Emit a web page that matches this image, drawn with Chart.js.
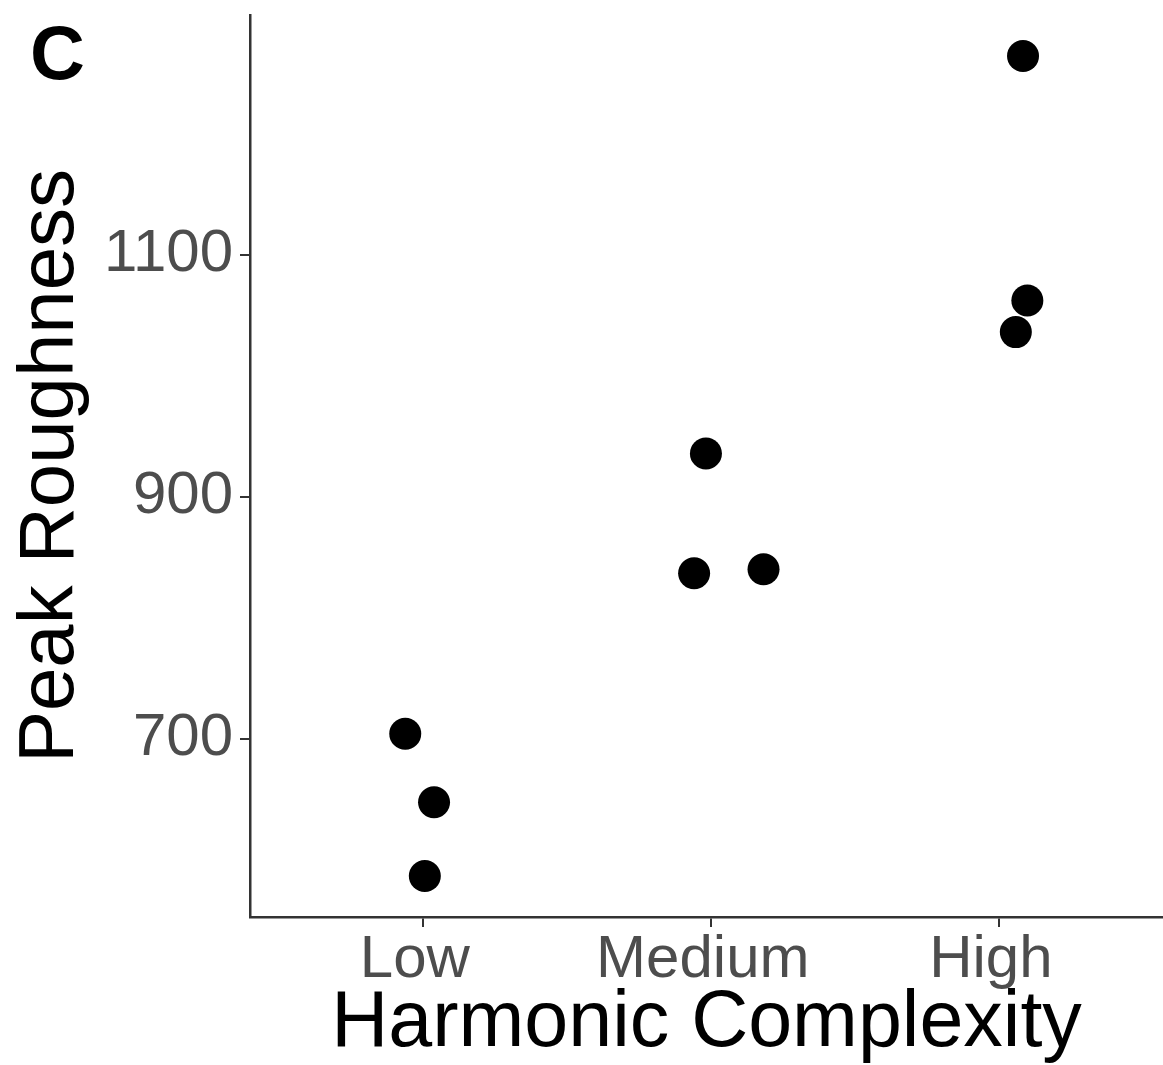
<!DOCTYPE html>
<html>
<head>
<meta charset="utf-8">
<script src="https://cdn.jsdelivr.net/npm/chart.js@4/dist/chart.umd.min.js"></script>
<style>
  body { margin: 0; background: #fff; }
  .wrap { position: relative; width: 1163px; height: 1065px; overflow: hidden; }
  .panel { position: absolute; left: 30px; top: 15px; font: bold 76px "Liberation Sans", Arial, sans-serif; line-height: 1; color: #000; }
</style>
</head>
<body>
<div class="wrap">
  <canvas id="chart" width="1163" height="1065"></canvas>
  <div class="panel">C</div>
</div>
<script>
const categories = ['Low', 'Medium', 'High'];
// horizontal jitter of each point around its category
const jitter = [
  [-0.061, 0.039, 0.007],
  [-0.017, -0.058, 0.183],
  [0.084, 0.099, 0.059],
];
const peakRoughness = [
  [704.1, 647.5, 586.5],
  [935.8, 836.8, 840.1],
  [1264.5, 1062.3, 1036.2],
];
const yTicks = [700, 900, 1100];

const FONT = '"Liberation Sans", Arial, sans-serif';

const points = [];
categories.forEach((c, i) => {
  peakRoughness[i].forEach((v, j) => {
    points.push({ x: i + 1 + jitter[i][j], y: v });
  });
});

new Chart(document.getElementById('chart'), {
  type: 'scatter',
  data: {
    datasets: [{
      data: points,
      backgroundColor: '#000',
      borderWidth: 0,
      pointRadius: 16,
      pointHoverRadius: 16,
    }],
  },
  options: {
    responsive: false,
    animation: false,
    layout: { autoPadding: false, padding: { top: 15, right: 0, bottom: 0, left: 0 } },
    plugins: { legend: { display: false }, tooltip: { enabled: false } },
    scales: {
      x: {
        type: 'linear',
        min: 0.4,
        max: 3.57,
        afterFit(scale) {
          scale.height = 148;
          scale.paddingLeft = 0;
          scale.paddingRight = 0;
        },
        afterBuildTicks(scale) { scale.ticks = [1, 2, 3].map(v => ({ value: v })); },
        grid: { drawOnChartArea: false, tickLength: 10, color: '#333', lineWidth: 2 },
        border: { color: '#333', width: 2.5 },
        ticks: {
          padding: 3,
          labelOffset: -8,
          color: '#4d4d4d',
          font: { family: FONT, size: 60, lineHeight: 1 },
          callback: v => categories[v - 1],
        },
        title: {
          display: true,
          text: 'Harmonic Complexity',
          color: '#000',
          font: { family: FONT, size: 79 },
          padding: { top: 0, bottom: -7 },
        },
      },
      y: {
        min: 552.6,
        max: 1298.4,
        afterFit(scale) {
          scale.width = 250;
          scale.paddingTop = 0;
          scale.paddingBottom = 0;
        },
        afterBuildTicks(scale) { scale.ticks = yTicks.map(v => ({ value: v })); },
        grid: { drawOnChartArea: false, tickLength: 10, color: '#333', lineWidth: 2 },
        border: { color: '#333', width: 2.5 },
        ticks: {
          padding: 7,
          color: '#4d4d4d',
          font: { family: FONT, size: 60 },
          callback: v => String(v),
        },
        title: {
          display: true,
          text: 'Peak Roughness',
          color: '#000',
          font: { family: FONT, size: 78 },
          padding: { top: 5, bottom: 0 },
        },
      },
    },
  },
});
</script>
</body>
</html>
